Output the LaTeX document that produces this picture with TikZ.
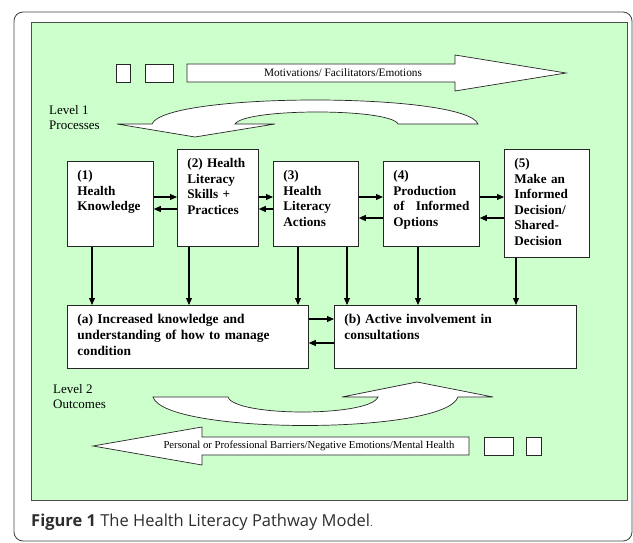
\documentclass[tikz,border=0pt]{standalone}
\usepackage{fontspec}
\setmainfont{Liberation Serif}
\newfontfamily\captionfont{Open Sans}
\usetikzlibrary{arrows.meta,positioning}
\definecolor{panelgreen}{RGB}{204,255,204}
\definecolor{captiongray}{RGB}{45,45,45}

\begin{document}
\begin{tikzpicture}
  [
    x=1pt, y=-1pt,
    rectanglenode_process/.style={rectangle, draw=black!85, line width=0.8pt, fill=white, anchor=north west, align=left, inner xsep=10pt, inner ysep=9pt, text height=9.5pt, font=\fontsize{13.2}{15.5}\selectfont\bfseries},
    rectanglenode_outcome/.style={rectangle, draw=black!85, line width=0.8pt, fill=white, anchor=north west, align=left, inner xsep=10pt, inner ysep=9pt, text height=9.5pt, text depth=35.5pt, font=\fontsize{13.4}{16}\selectfont\bfseries},
    smallbox/.style={rectangle, draw=black!85, line width=0.7pt, fill=white, anchor=north west, minimum height=18pt, inner sep=0pt},
    blockarrow/.style={draw=black!85, fill=white, line width=0.7pt, line join=miter},
    arrowtext/.style={font=\fontsize{10.7}{12}\selectfont},
    leveltext/.style={anchor=north west, align=left, inner sep=0pt, font=\fontsize{13}{15}\selectfont},
    link/.style={-{Triangle[length=7pt,width=6pt]}, line width=1.1pt},
  ]

  \useasboundingbox (0,0) rectangle (633,543);

  % frame and panel
  \draw[black!75, line width=0.8pt, rounded corners=9pt] (14,12) rectangle (632,541);
  \draw[black!70, fill=panelgreen] (31,22) rectangle (627,500);

  % top band
  \node[smallbox, minimum width=14pt] (gapA) at (116,64) {};
  \node[smallbox, minimum width=28pt] (gapB) at (145,64) {};
  \draw[blockarrow] (187,64) -- (455,64) -- (455,55) -- (566,73) -- (455,91) -- (455,82) -- (187,82) -- cycle;
  \node[arrowtext, font=\fontsize{11.3}{12}\selectfont] (motivations) at (343,73) {Motivations/ Facilitators/Emotions};

  % level 1 curved arrow
  \draw[blockarrow] (152,124) .. controls (165,92) and (465,92) .. (478,124)
    -- (398,124) .. controls (390,108) and (245,108) .. (235,124)
    -- (275,124) -- (195,137) -- (117,124) -- cycle;
  \node[leveltext] (level1) at (49,105) {Level 1\\Processes};

  % processes
  \node[rectanglenode_process, text width=66pt, text depth=57.5pt] (know) at (67,161) {(1)\\Health\\Knowledge};
  \node[rectanglenode_process, text width=61pt, text depth=69.5pt] (skills) at (177,149) {(2) Health\\Literacy\\Skills +\\Practices};
  \node[rectanglenode_process, text width=65pt, text depth=57.5pt] (actions) at (273,161) {(3)\\Health\\Literacy\\Actions};
  \node[rectanglenode_process, text width=76pt, text depth=57.5pt] (options) at (383,161) {(4)\\Production\\of\hfill Informed\\Options};
  \node[rectanglenode_process, text width=65pt, text depth=80.5pt] (decision) at (504,149) {(5)\\Make an\\Informed\\Decision/\\Shared-\\Decision};

  % outcomes
  \node[rectanglenode_outcome, text width=221pt] (understand) at (67,305) {(a) Increased knowledge and\\understanding of how to manage\\condition};
  \node[rectanglenode_outcome, text width=222pt] (involve) at (334,305) {(b) Active involvement in\\consultations};

  % rows of the links
  \coordinate (fwd) at (0,197);
  \coordinate (backhi) at (0,209);
  \coordinate (backlo) at (0,218);
  \coordinate (fwdout) at (0,319);
  \coordinate (backout) at (0,343);

  \draw[link] (know.east |- fwd) -- (skills.west |- fwd);
  \draw[link] (skills.west |- backhi) -- (know.east |- backhi);
  \draw[link] (skills.east |- fwd) -- (actions.west |- fwd);
  \draw[link] (actions.west |- backhi) -- (skills.east |- backhi);
  \draw[link] (actions.east |- fwd) -- (options.west |- fwd);
  \draw[link] (options.west |- backlo) -- (actions.east |- backlo);
  \draw[link] (options.east |- fwd) -- (decision.west |- fwd);
  \draw[link] (decision.west |- backlo) -- (options.east |- backlo);

  \draw[link] ([xshift=25pt]know.south west) -- ([xshift=25pt]know.south west |- understand.north);
  \draw[link] ([xshift=12pt]skills.south west) -- ([xshift=12pt]skills.south west |- understand.north);
  \draw[link] ([xshift=25pt]actions.south west) -- ([xshift=25pt]actions.south west |- understand.north);
  \draw[link] ([xshift=74pt]actions.south west) -- ([xshift=74pt]actions.south west |- involve.north);
  \draw[link] ([xshift=35pt]options.south west) -- ([xshift=35pt]options.south west |- involve.north);
  \draw[link] ([xshift=12pt]decision.south west) -- ([xshift=12pt]decision.south west |- involve.north);

  \draw[link] (understand.east |- fwdout) -- (involve.west |- fwdout);
  \draw[link] (involve.west |- backout) -- (understand.east |- backout);

  % level 2 curved arrow
  \draw[blockarrow] (153,397) -- (228,397) .. controls (235,417) and (370,417) .. (378,397)
    -- (342,397) -- (417,382) -- (493,397) -- (458,397)
    .. controls (445,435) and (165,435) .. cycle;
  \node[leveltext] (level2) at (53,384) {Level 2\\Outcomes};

  % bottom band
  \draw[blockarrow] (469,437) -- (202,437) -- (202,427) -- (93,446) -- (202,465) -- (202,455) -- (469,455) -- cycle;
  \node[arrowtext] (barriers) at (309,446) {Personal or Professional Barriers/Negative Emotions/Mental Health};
  \node[smallbox, minimum width=29pt] (gapC) at (484,437) {};
  \node[smallbox, minimum width=15pt] (gapD) at (526,437) {};

  % caption
  \node[anchor=west, inner sep=0pt, text=captiongray, font=\captionfont\fontsize{16.5}{18}\selectfont] (caption) at (31,522) {\textbf{Figure 1} The Health Literacy Pathway Model{\fontsize{10}{10}\selectfont .}};

\end{tikzpicture}
\end{document}
